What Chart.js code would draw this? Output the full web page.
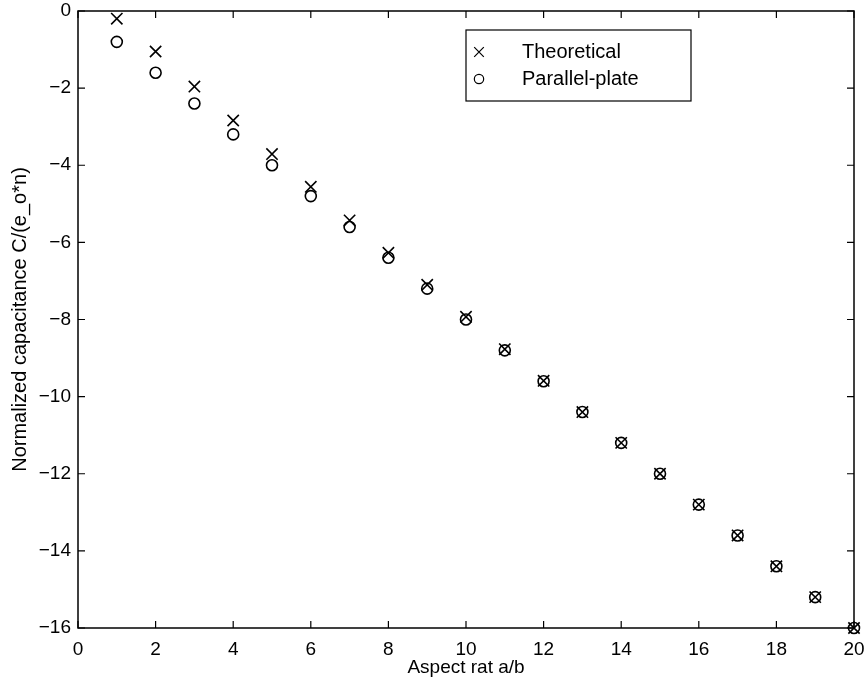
<!DOCTYPE html>
<html>
<head>
<meta charset="utf-8">
<script src="https://cdn.jsdelivr.net/npm/chart.js@4"></script>
<style>
  html, body { margin: 0; padding: 0; background: #fff; }
  #wrap { width: 867px; height: 684px; }
</style>
</head>
<body>
<div id="wrap"><canvas id="capChart" width="867" height="684"></canvas></div>
<script>
// aspect ratio a/b
const aspectRatio = [1, 2, 3, 4, 5, 6, 7, 8, 9, 10, 11, 12, 13, 14, 15, 16, 17, 18, 19, 20];
// normalized capacitance, exact solution
const theoretical = [-0.2, -1.05, -1.96, -2.84, -3.71, -4.56, -5.43, -6.27, -7.1, -7.93,
                     -8.77, -9.59, -10.4, -11.2, -12.0, -12.8, -13.6, -14.4, -15.2, -16.0];
// normalized capacitance, parallel-plate approximation
const parallelPlate = [-0.8, -1.6, -2.4, -3.2, -4.0, -4.8, -5.6, -6.4, -7.2, -8.0,
                       -8.8, -9.6, -10.4, -11.2, -12.0, -12.8, -13.6, -14.4, -15.2, -16.0];
const xTicks = [0, 2, 4, 6, 8, 10, 12, 14, 16, 18, 20];
const yTicks = [-16, -14, -12, -10, -8, -6, -4, -2, 0];

const FONT = "'Liberation Sans', Arial, Helvetica, sans-serif";

function toPoints(xs, ys) {
  return xs.map((x, i) => ({ x: x, y: ys[i] }));
}

// box around the axes with inward ticks on all four sides
const frame = {
  id: 'frame',
  afterDatasetsDraw(chart) {
    const { ctx, chartArea: a, scales } = chart;
    const len = 7;
    ctx.save();
    ctx.strokeStyle = '#000';
    ctx.lineWidth = 1.5;
    ctx.strokeRect(a.left, a.top, a.right - a.left, a.bottom - a.top);
    ctx.lineWidth = 1.2;
    ctx.beginPath();
    xTicks.forEach(v => {
      const px = scales.x.getPixelForValue(v);
      ctx.moveTo(px, a.bottom); ctx.lineTo(px, a.bottom - len);
      ctx.moveTo(px, a.top); ctx.lineTo(px, a.top + len);
    });
    yTicks.forEach(v => {
      const py = scales.y.getPixelForValue(v);
      ctx.moveTo(a.left, py); ctx.lineTo(a.left + len, py);
      ctx.moveTo(a.right, py); ctx.lineTo(a.right - len, py);
    });
    ctx.stroke();
    ctx.restore();
  }
};

// legend box in the upper right
const boxLegend = {
  id: 'boxLegend',
  afterDraw(chart) {
    const { ctx } = chart;
    const left = 466, top = 30, w = 225, h = 71;
    ctx.save();
    ctx.fillStyle = '#fff';
    ctx.fillRect(left, top, w, h);
    ctx.strokeStyle = '#000';
    ctx.lineWidth = 1.2;
    ctx.strokeRect(left, top, w, h);
    ctx.font = '20px ' + FONT;
    ctx.textBaseline = 'middle';
    chart.data.datasets.forEach((ds, i) => {
      const y = top + 22 + i * 27;
      const mx = left + 13;
      ctx.fillStyle = 'rgba(0,0,0,0)';
      Chart.helpers.drawPoint(ctx, {
        pointStyle: ds.pointStyle,
        radius: ds.pointRadius * 0.85,
        borderWidth: 1.3
      }, mx, y);
      ctx.fillStyle = '#000';
      ctx.fillText(ds.label, left + 56, y);
    });
    ctx.restore();
  }
};

const minus = v => String(v).replace('-', '\u2212');
// keep tick labels from shrinking the plot area
const noLabelPad = s => { s.paddingTop = 0; s.paddingBottom = 0; s.paddingLeft = 0; s.paddingRight = 0; };

new Chart(document.getElementById('capChart'), {
  type: 'scatter',
  data: {
    datasets: [
      {
        label: 'Theoretical',
        data: toPoints(aspectRatio, theoretical),
        pointStyle: 'crossRot',
        pointRadius: 8,
        borderColor: '#000',
        backgroundColor: '#000',
        pointBorderWidth: 1.6,
        clip: false
      },
      {
        label: 'Parallel-plate',
        data: toPoints(aspectRatio, parallelPlate),
        pointStyle: 'circle',
        pointRadius: 5.5,
        borderColor: '#000',
        backgroundColor: 'rgba(0,0,0,0)',
        pointBorderWidth: 1.6,
        clip: false
      }
    ]
  },
  options: {
    responsive: false,
    animation: false,
    events: [],
    layout: { padding: { top: 11, right: 13, left: 0, bottom: 0 } },
    plugins: {
      legend: { display: false },
      tooltip: { enabled: false }
    },
    scales: {
      x: {
        type: 'linear',
        min: 0,
        max: 20,
        afterFit: s => { s.height = 56; noLabelPad(s); },
        afterBuildTicks: s => { s.ticks = xTicks.map(v => ({ value: v })); },
        grid: { display: false, drawTicks: false },
        border: { display: false },
        ticks: { color: '#000', padding: 10, maxRotation: 0, font: { family: FONT, size: 19 }, callback: minus },
        title: { display: true, text: 'Aspect rat a/b', color: '#000', padding: { top: 0, bottom: 5 }, font: { family: FONT, size: 19 } }
      },
      y: {
        type: 'linear',
        min: -16,
        max: 0,
        afterFit: s => { s.width = 78; noLabelPad(s); },
        afterBuildTicks: s => { s.ticks = yTicks.map(v => ({ value: v })); },
        grid: { display: false, drawTicks: false },
        border: { display: false },
        ticks: { color: '#000', padding: 7, font: { family: FONT, size: 19 }, callback: minus },
        title: { display: true, text: 'Normalized capacitance C/(e_o*n)', color: '#000', padding: { top: 8, bottom: 0 }, font: { family: FONT, size: 20 } }
      }
    }
  },
  plugins: [frame, boxLegend]
});
</script>
</body>
</html>
